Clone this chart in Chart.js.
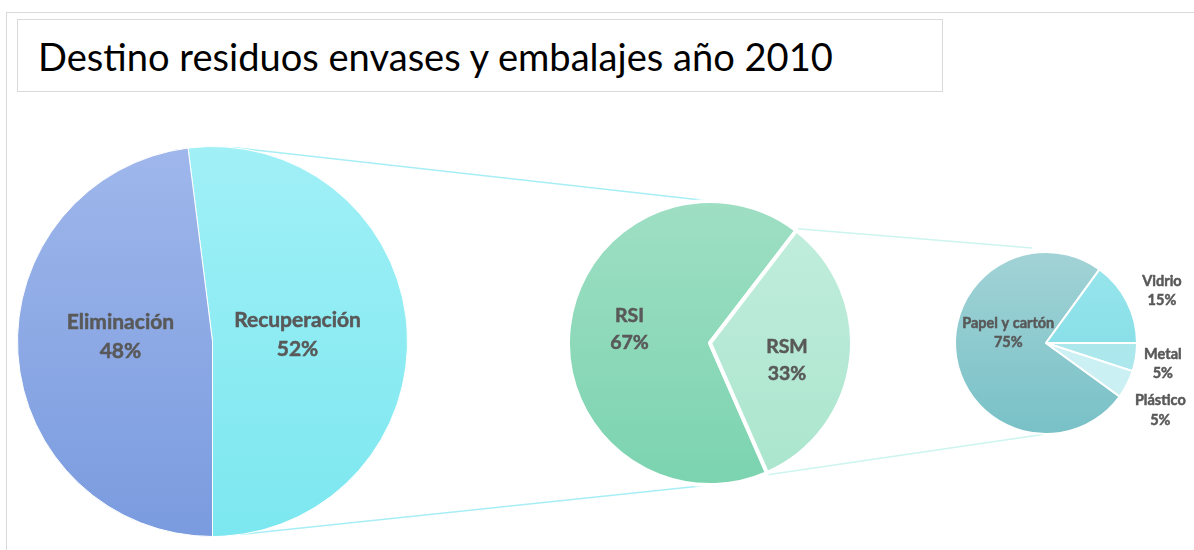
<!DOCTYPE html>
<html>
<head>
<meta charset="utf-8">
<script src="https://cdn.jsdelivr.net/npm/chart.js@4.4.1/dist/chart.umd.min.js"></script>
<style>
  html, body { margin: 0; padding: 0; background: #fff; overflow: hidden; }
  body { width: 1194px; height: 550px; position: relative; }
  #frame { position: absolute; left: 6px; top: 12px; width: 1300px; height: 700px;
           border: 1px solid #d9d9d9; }
  #title { position: absolute; left: 17px; top: 19px; width: 926px; height: 73px;
           box-sizing: border-box; border: 1px solid #d9d9d9; padding-left: 20px;
           font-family: Lato, sans-serif; color: #000; line-height: 73px; white-space: nowrap; }
  canvas { position: absolute; }
</style>
</head>
<body>
<div id="frame"></div>
<div id="title">Destino residuos envases y embalajes año 2010</div>
<canvas id="links" width="1194" height="550" style="left:0;top:0"></canvas>
<canvas id="pie1" width="391" height="391" style="left:17px;top:146px"></canvas>
<canvas id="pie2" width="288" height="288" style="left:566px;top:199px"></canvas>
<canvas id="pie3" width="304" height="304" style="left:894px;top:191px"></canvas>
<script>
// Destino general (primer pie)
const destinoLabels = ["Recuperación", "Eliminación"];
const destinoValues = [52, 48];

// Desglose de la recuperación
const recupLabels = ["RSI", "RSM"];
const recupValues = [67, 33];

// Desglose de RSM por material
const materialLabels = ["Papel y cartón", "Vidrio", "Metal", "Plástico"];
const materialValues = [75, 15, 5, 5];

const labelColor = "#595959";

// fit title width like the original
(function fitTitle() {
  const el = document.getElementById("title");
  const c = document.createElement("canvas").getContext("2d");
  c.font = "100px Lato";
  const w = c.measureText(el.textContent).width;
  el.style.fontSize = (100 * 798 / w).toFixed(1) + "px";
})();

function gradientFill(pairs) {
  return (ctx) => {
    const area = ctx.chart.chartArea;
    const pair = pairs[ctx.dataIndex];
    if (!area) return pair[0];
    const g = ctx.chart.ctx.createLinearGradient(0, area.top, 0, area.bottom);
    g.addColorStop(0, pair[0]);
    g.addColorStop(1, pair[1]);
    return g;
  };
}

// draws "name / xx%" labels at a fraction of the radius
const pieLabels = {
  id: "pieLabels",
  afterDatasetsDraw(chart, args, opts) {
    const ctx = chart.ctx;
    const meta = chart.getDatasetMeta(0);
    const values = chart.data.datasets[0].data;
    ctx.save();
    ctx.fillStyle = labelColor;
    ctx.strokeStyle = labelColor;
    ctx.lineWidth = 0.5;
    ctx.font = "bold " + opts.size + "px Lato";
    ctx.textAlign = "center";
    ctx.textBaseline = "middle";
    meta.data.forEach((arc, i) => {
      const mid = (arc.startAngle + arc.endAngle) / 2;
      const r = arc.outerRadius * opts.radius[i];
      const x = arc.x + Math.cos(mid) * r;
      const y = arc.y + Math.sin(mid) * r + opts.dy[i];
      const lh = opts.size * opts.lineHeight;
      const lines = [chart.data.labels[i], values[i] + "%"];
      lines.forEach((t, k) => {
        const ty = y + (k - 0.5) * lh;
        ctx.fillText(t, x, ty);
        ctx.strokeText(t, x, ty);
      });
    });
    ctx.restore();
  },
};

function makePie(id, labels, values, colors, rotation, border, padding, labelOpts) {
  return new Chart(document.getElementById(id), {
    type: "pie",
    data: {
      labels: labels,
      datasets: [{
        data: values,
        backgroundColor: gradientFill(colors),
        borderColor: "#ffffff",
        borderWidth: border,
        hoverOffset: 0,
      }],
    },
    options: {
      responsive: false,
      animation: false,
      events: [],
      rotation: rotation,
      layout: { padding: padding },
      plugins: {
        legend: { display: false },
        title: { display: false },
        tooltip: { enabled: false },
        pieLabels: labelOpts,
      },
    },
    plugins: [pieLabels],
  });
}

const pie1 = makePie("pie1", destinoLabels, destinoValues,
  [["#a0f0f6", "#7ce7f0"], ["#9fb7eb", "#7a9bdf"]],
  -7.2, 1, 0,
  { size: 21, lineHeight: 1.38, radius: [0.437, 0.473], dy: [-1.5, -11] });

const pie2 = makePie("pie2", recupLabels, recupValues,
  [["#9fdfc4", "#7bd3af"], ["#c3eede", "#aae5cd"]],
  156.3, 4, 0,
  { size: 19.5, lineHeight: 1.35, radius: [0.571, 0.546], dy: [-4, 8] });

const pie3 = makePie("pie3", materialLabels, materialValues,
  [["#a2d3d6", "#78c1c7"], ["#9ae6ed", "#79d9e3"], ["#b0e9ed", "#a8e6eb"], ["#d0f2f5", "#c9eff3"]],
  126, 2, 60,
  { size: 14.5, lineHeight: 1.35, radius: [0.42, 1.43, 1.30, 1.41], dy: [-16, 7, 2.5, 9] });

// connector lines between pies
function circleOf(chart, el) {
  const arc = chart.getDatasetMeta(0).data[0];
  return { x: el.offsetLeft + arc.x, y: el.offsetTop + arc.y, r: arc.outerRadius };
}
function drawLinks() {
  const ctx = document.getElementById("links").getContext("2d");
  const c1 = circleOf(pie1, document.getElementById("pie1"));
  const c2 = circleOf(pie2, document.getElementById("pie2"));
  const c3 = circleOf(pie3, document.getElementById("pie3"));
  const at = (c, deg) => {
    const a = (deg - 90) * Math.PI / 180;
    return [c.x + Math.cos(a) * c.r, c.y + Math.sin(a) * c.r];
  };
  const line = (p, q, color) => {
    ctx.beginPath();
    ctx.moveTo(p[0], p[1]);
    ctx.lineTo(q[0], q[1]);
    ctx.strokeStyle = color;
    ctx.lineWidth = 1.5;
    ctx.stroke();
  };
  line(at(c1, 6), [c2.x, c2.y - c2.r], "#a8eef5");
  line(at(c1, 172), [c2.x, c2.y + c2.r], "#a8eef5");
  const rsm = pie2.getDatasetMeta(0).data[1];
  const el2 = document.getElementById("pie2");
  const edge = (ang) => [el2.offsetLeft + rsm.x + Math.cos(ang) * (rsm.outerRadius + 2),
                         el2.offsetTop + rsm.y + Math.sin(ang) * (rsm.outerRadius + 2)];
  line(edge(rsm.startAngle), [c3.x - c3.r * 0.15, c3.y - c3.r - 4], "#cdf5ef");
  line(edge(rsm.endAngle), [c3.x, c3.y + c3.r], "#cdf5ef");
}
drawLinks();
</script>
</body>
</html>
